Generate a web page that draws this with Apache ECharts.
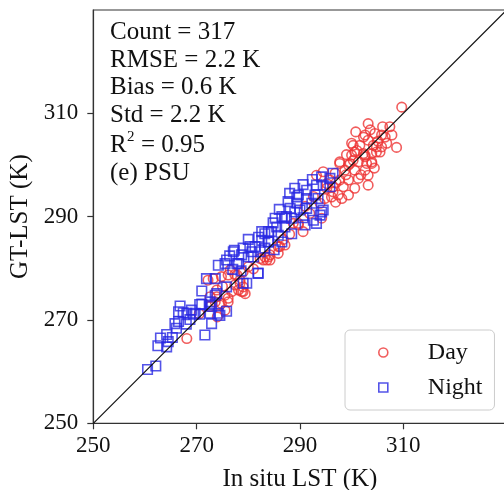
<!DOCTYPE html>
<html>
<head>
<meta charset="utf-8">
<script src="https://cdn.jsdelivr.net/npm/echarts@6/dist/echarts.min.js"></script>
<style>
  html, body { margin: 0; padding: 0; background: #fff; }
  #chart { width: 504px; height: 490px; }
</style>
</head>
<body>
<div id="chart"></div>
<script>
// axis range / ticks
var axisMin = 250
var axisMax = 330
var tickStep = 20

// day points [in situ, GT]
var dayPoints = [
  [268.1,266.4],[272.6,274.5],[274.8,273.2],[273.2,278.0],[274.8,278.4],[276.1,278.7],[277.4,278.8],[279.0,279.3],
  [273.6,273.5],[274.5,272.9],[275.5,274.8],[276.8,275.5],[278.1,275.8],[279.4,275.1],[277.4,276.8],[278.4,277.7],
  [283.2,282.2],[284.2,281.6],[282.3,281.9],[279.0,276.4],[276.1,273.5],
  [293.2,298.0],[295.2,296.4],[296.4,294.8],[294.8,293.5],[293.9,292.6],[291.9,290.6],[289.7,288.7],[290.6,287.1],
  [287.1,284.5],[285.8,284.2],[285.8,282.9],[294.2,289.7],
  [302.6,305.8],[305.8,305.8],[300.3,303.8],[301.6,303.8],[304.8,303.5],[306.8,304.2],[300.0,301.9],[302.6,301.9],
  [303.9,302.2],[305.5,302.5],[301.3,300.6],[302.9,300.3],[303.9,300.3],[299.7,300.3],[297.7,300.3],[298.7,299.0],
  [300.6,299.0],[302.6,299.0],[303.2,298.0],[296.8,298.4],[295.8,297.1],[297.7,297.1],[299.4,297.1],[301.3,297.4],
  [296.4,295.8],[298.4,295.8],[300.6,295.5],[297.4,294.2],[299.4,294.2],[298.1,293.5],[296.1,293.8],[295.2,295.5],
  [303.2,296.1],[294.5,298.7],
  [309.7,311.2],[303.2,308.0],[307.4,307.4],[304.5,306.1],[302.3,305.4],[300.0,304.2],[306.5,305.4],[308.7,303.4],
  [305.8,303.5],[304.2,303.8],[303.2,304.8],[300.6,302.5],[302.3,302.2],[304.8,302.5],[297.7,300.6],[300.3,300.9],
  [302.6,301.6],[303.9,300.6],[299.4,300.0],
  [272.2,277.7],[276.5,279.7],[277.8,278.7],[279.0,275.5],[276.1,274.2],[272.6,272.6],[275.5,271.9],[273.9,274.5],
  [283.6,281.6],[284.2,282.6],[278.4,277.1],
  [280.0,280.3],[282.9,281.6],[283.9,282.2],[286.1,284.2],[273.9,275.8],[278.7,275.5],[288.7,288.7],[289.7,288.4],
  [297.0,296.6],[298.9,298.1],[301.0,302.8],[303.6,306.8],[305.1,304.6],[299.0,302.0],[304.4,299.4],[301.8,298.1],
  [296.9,292.8],[292.6,293.9],[291.0,292.0],[288.0,286.6],[286.8,285.6],[281.0,279.9],[275.0,276.5],[270.5,271.2],
  [274.0,270.6],[306.0,307.4],[307.8,305.8],[300.8,306.4]
]

// night points [in situ, GT]
var nightPoints = [
  [260.5,260.4],[262.1,261.1],[262.5,265.0],[264.2,264.8],[264.2,267.2],[264.5,265.8],[265.8,269.3],[266.1,268.4],
  [266.5,269.7],[267.4,271.4],[268.7,270.1],[269.4,271.1],[271.0,273.1],[270.6,271.1],[271.6,267.1],[272.9,269.3],
  [272.6,271.3],[273.6,274.8],[274.5,270.9],[272.6,272.9],
  [277.3,283.5],[280.3,284.2],[282.6,287.1],[283.9,287.1],[283.9,285.1],[281.0,282.2],[274.2,280.6],[275.5,280.9],
  [275.8,281.6],[278.1,280.9],[280.0,282.2],[271.9,278.0],[273.6,278.0],[281.9,279.0],[279.7,277.1],[273.9,275.1],
  [270.6,273.0],[272.9,272.6],[275.8,271.7],[269.0,271.9],[283.2,283.9],
  [294.2,297.7],[295.8,297.4],[295.8,295.8],[293.2,296.1],[291.3,295.1],[292.9,294.2],[291.3,293.5],[289.7,294.2],
  [287.7,292.9],[289.4,292.6],[291.3,291.6],[290.0,291.3],[288.1,291.6],[286.5,290.0],[288.4,289.7],[294.2,290.9],
  [292.6,289.3],[293.2,288.7],[291.0,288.4],[285.2,289.7],[285.5,288.0],[287.1,288.0],[283.2,286.7],[284.5,287.1],
  [285.8,286.4],[288.4,286.7],[282.6,285.4],[283.9,285.1],[281.3,284.2],[282.3,283.2],[280.7,283.2],[286.5,285.1],
  [287.1,289.7],
  [294.5,296.1],[293.5,293.5],[292.3,292.6],[294.5,291.3],[293.9,290.3],
  [288.0,294.5],[289.4,293.8],[287.4,290.0],[277.1,283.2],[278.7,282.6],[277.8,280.9],[281.9,279.1],[279.0,277.1],
  [275.8,276.4],[272.6,273.5],[266.5,271.6],[268.1,271.3],[269.7,271.3],[274.2,271.3],
  [284.8,288.8],[286.0,291.4],[289.0,295.5],[290.6,296.2],[292.4,297.2],[282.0,286.0],[280.0,285.6],[279.0,283.9],
  [276.4,282.4],[277.0,279.8],[278.6,279.5],[285.0,283.6],[290.6,289.8],[289.0,290.9],[296.4,298.4],[271.0,275.6],
  [268.0,269.2],[266.8,272.7],[265.3,266.6],[263.0,266.5]
]

// 1:1 line
var oneToOne = [[axisMin, axisMin], [axisMax, axisMax]]

var statLines = ['Count = 317', 'RMSE = 2.2 K', 'Bias = 0.6 K', 'Std = 2.2 K']
var r2Text = '= 0.95'
var panelText = '(e) PSU'

var serif = 'Liberation Serif, Times New Roman, serif'
var dayColor = '#ee3434'
var nightColor = '#2828e2'

var myChart = echarts.init(document.getElementById('chart'), null, { renderer: 'canvas' })

var graphics = []
statLines.forEach(function (t, i) {
  graphics.push({
    type: 'text', left: 110, top: 20 + i * 27.6, z: 10,
    style: { text: t, font: '25px ' + serif, fill: '#111' }
  })
})
graphics.push({ type: 'text', left: 110, top: 133, z: 10, style: { text: 'R', font: '25px ' + serif, fill: '#111' } })
graphics.push({ type: 'text', left: 127, top: 130, z: 10, style: { text: '2', font: '15px ' + serif, fill: '#111' } })
graphics.push({ type: 'text', left: 141, top: 133, z: 10, style: { text: r2Text, font: '25px ' + serif, fill: '#111' } })
graphics.push({ type: 'text', left: 110, top: 161, z: 10, style: { text: panelText, font: '25px ' + serif, fill: '#111' } })

var axisCommon = {
  type: 'value',
  min: axisMin,
  max: axisMax,
  interval: tickStep,
  nameLocation: 'middle',
  nameTextStyle: { fontFamily: serif, fontSize: 25, color: '#111' },
  axisLine: { show: true, lineStyle: { color: '#333', width: 1.2 } },
  axisTick: { show: true, inside: false, length: 6, lineStyle: { color: '#333', width: 1.2 } },
  axisLabel: { fontFamily: serif, fontSize: 23, color: '#111', showMaxLabel: false },
  splitLine: { show: false }
}

var option = {
  animation: false,
  backgroundColor: '#fff',
  grid: {
    left: 93.3, top: 10, width: 413.3, height: 413.3,
    containLabel: false,
    outerBoundsMode: 'none',
    show: true, borderColor: '#333', borderWidth: 1.2, backgroundColor: 'transparent'
  },
  xAxis: Object.assign({}, axisCommon, {
    name: 'In situ LST (K)',
    nameGap: 44,
    axisLabel: Object.assign({}, axisCommon.axisLabel, { margin: 11 })
  }),
  yAxis: Object.assign({}, axisCommon, {
    name: 'GT-LST (K)',
    nameGap: 56,
    axisLabel: Object.assign({}, axisCommon.axisLabel, { margin: 15 })
  }),
  legend: {
    orient: 'vertical',
    left: 345,
    top: 330,
    align: 'left',
    padding: [10, 12, 10, 33],
    itemGap: 10,
    itemWidth: 9,
    itemHeight: 9,
    backgroundColor: '#fff',
    borderColor: '#ccc',
    borderWidth: 1,
    borderRadius: 5,
    textStyle: { fontFamily: serif, fontSize: 24, color: '#111', lineHeight: 25, padding: [0, 0, 0, 35] },
    data: [
      { name: 'Day', icon: 'circle', itemStyle: { color: 'transparent', borderColor: dayColor, borderWidth: 1.6 } },
      { name: 'Night', icon: 'rect', itemStyle: { color: 'transparent', borderColor: nightColor, borderWidth: 1.6 } }
    ]
  },
  graphic: graphics,
  series: [
    {
      name: 'Day',
      type: 'scatter',
      symbol: 'circle',
      symbolSize: 9.5,
      data: dayPoints,
      itemStyle: { color: 'rgba(255,255,255,0)', borderColor: dayColor, borderWidth: 1.6 },
      z: 2
    },
    {
      name: 'Night',
      type: 'scatter',
      symbol: 'rect',
      symbolSize: 9.5,
      data: nightPoints,
      itemStyle: { color: 'rgba(255,255,255,0)', borderColor: nightColor, borderWidth: 1.6 },
      z: 3
    },
    {
      name: '1:1',
      type: 'line',
      data: oneToOne,
      symbol: 'none',
      lineStyle: { color: '#111', width: 1.2 },
      z: 4
    }
  ]
}

myChart.setOption(option)
</script>
</body>
</html>
